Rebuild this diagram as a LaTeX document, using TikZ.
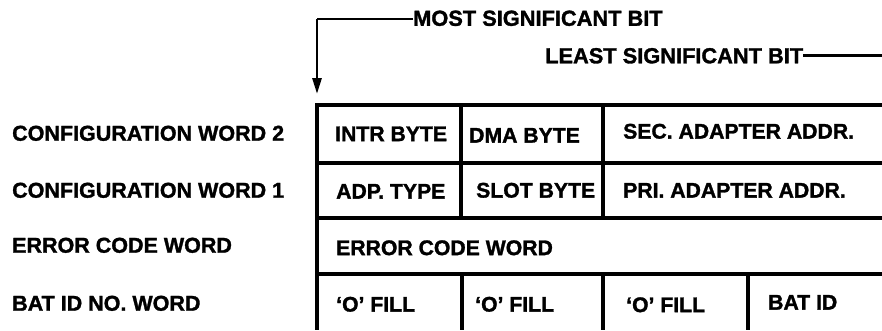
\documentclass[tikz,border=0pt]{standalone}
\usepackage{fontspec}
\setmainfont{Liberation Sans}
\newfontfamily\heavyfont{Liberation Sans Bold}[FakeBold=1.4,Ligatures=TeX]
\usetikzlibrary{arrows.meta}
\tikzset{
  rowlabel/.style={anchor=west,inner sep=0pt,text height=15.4pt,text depth=0pt,font=\heavyfont\fontsize{21.5}{24}\selectfont},
  celltext/.style={anchor=west,inner sep=0pt,text height=15.2pt,text depth=0pt,font=\heavyfont\fontsize{21.2}{24}\selectfont},
  bitlabel/.style={anchor=west,inner sep=0pt,text height=15.6pt,text depth=0pt,font=\heavyfont\fontsize{21.8}{24}\selectfont},
  rule/.style={line width=3.3pt,line cap=rect},
  pointer/.style={line width=2.8pt},
}
\begin{document}
\begin{tikzpicture}[x=1pt,y=-1pt]
\useasboundingbox (0,0) rectangle (882,330);
% pointer labels
\node[bitlabel] (msb) at (413,18) {MOST SIGNIFICANT BIT};
\node[bitlabel] (lsb) at (545,55.5) {LEAST SIGNIFICANT BIT};
\coordinate (corner) at (317,19);
\coordinate (tip) at (317,94);
\coordinate (lsbend) at (882,55.5);
\draw[pointer] (msb.west |- corner) -- (corner);
\draw[pointer,-{Triangle[length=16pt,width=9pt]}] (corner) -- (tip);
\draw[pointer] (lsb.east) -- (lsbend);
% table rules
\draw[rule] (317,105) -- (882,105);
\draw[rule] (317,163) -- (882,163);
\draw[rule] (317,218) -- (882,218);
\draw[rule] (317,274) -- (882,274);
\draw[line width=4pt] (317,104) -- (317,330);
\draw[rule] (461,105) -- (461,218);
\draw[rule] (603,105) -- (603,218);
\draw[line width=3.3pt] (462,274) -- (462,330);
\draw[line width=3.3pt] (603,274) -- (603,330);
\draw[line width=3.3pt] (748,274) -- (748,330);
% row labels
\node[rowlabel] (l1) at (12,133) {CONFIGURATION WORD 2};
\node[rowlabel] (l2) at (12,190) {CONFIGURATION WORD 1};
\node[rowlabel] (l3) at (12,245) {ERROR CODE WORD};
\node[rowlabel] (l4) at (12,303) {BAT ID NO. WORD};
% cell texts
\node[celltext] (c11) at (335,133.5) {INTR BYTE};
\node[celltext] (c12) at (469,135) {DMA BYTE};
\node[celltext] (c13) at (623,131) {SEC. ADAPTER ADDR.};
\node[celltext] (c21) at (336,191) {ADP. TYPE};
\node[celltext] (c22) at (476,190) {SLOT BYTE};
\node[celltext] (c23) at (623,190) {PRI. ADAPTER ADDR.};
\node[celltext] (c31) at (336,247.5) {ERROR CODE WORD};
\node[celltext] (c41) at (336,304) {‘O’ FILL};
\node[celltext] (c42) at (475,304) {‘O’ FILL};
\node[celltext] (c43) at (626,304.5) {‘O’ FILL};
\node[celltext] (c44) at (768,302) {BAT ID};
\end{tikzpicture}
\end{document}
